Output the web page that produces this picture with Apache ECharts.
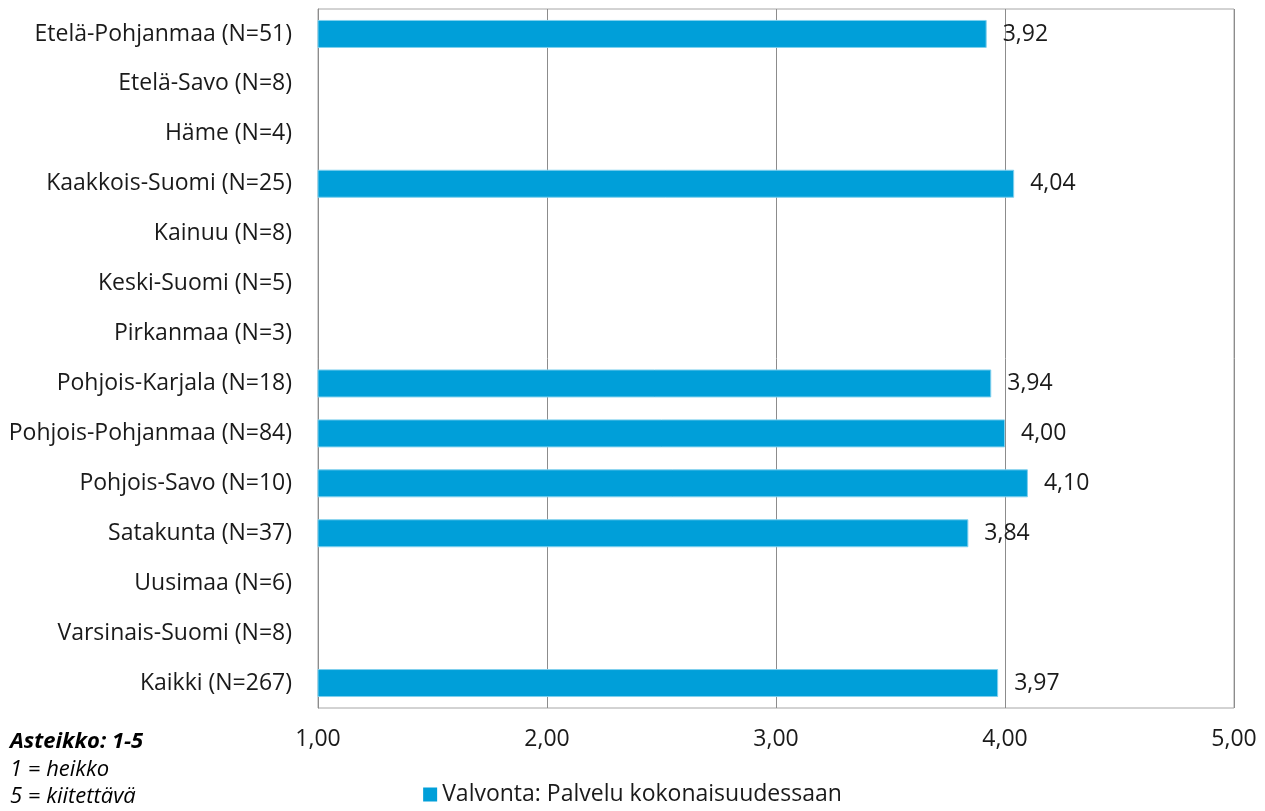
<!DOCTYPE html>
<html><head><meta charset="utf-8">
<script src="https://cdn.jsdelivr.net/npm/echarts@6/dist/echarts.min.js"></script>
<style>html,body{margin:0;padding:0;background:#fff}#c{width:1265px;height:811px}</style>
</head><body><div id="c"></div>
<script>
const categories = ["Etelä-Pohjanmaa (N=51)","Etelä-Savo (N=8)","Häme (N=4)","Kaakkois-Suomi (N=25)","Kainuu (N=8)","Keski-Suomi (N=5)","Pirkanmaa (N=3)","Pohjois-Karjala (N=18)","Pohjois-Pohjanmaa (N=84)","Pohjois-Savo (N=10)","Satakunta (N=37)","Uusimaa (N=6)","Varsinais-Suomi (N=8)","Kaikki (N=267)"];
const values = [3.92, null, null, 4.04, null, null, null, 3.94, 4.00, 4.10, 3.84, null, null, 3.97];
const seriesName = "Valvonta: Palvelu kokonaisuudessaan";
const xTicks = [1, 2, 3, 4, 5];
const noteLines = ["Asteikko: 1-5", "1 = heikko", "5 = kiitettävä"];

const FONT = "'Open Sans', 'Noto Sans', sans-serif";
const chart = echarts.init(document.getElementById('c'));
const fmt = v => v.toFixed(2).replace('.', ',');
chart.setOption({
  animation: false,
  textStyle: { fontFamily: FONT },
  grid: { left: 318, right: 31, top: 9, bottom: 103, show: true, borderColor: '#a6a6a6', borderWidth: 1 },
  xAxis: {
    type: 'value', min: xTicks[0], max: xTicks[xTicks.length - 1], interval: 1,
    axisLine: { show: false }, axisTick: { show: false },
    splitLine: { show: true, lineStyle: { color: '#8c8c8c', width: 1 } },
    axisLabel: { margin: 20, fontSize: 23, color: '#1a1a1a', fontFamily: FONT, formatter: v => fmt(v) }
  },
  yAxis: {
    type: 'category', data: categories, inverse: true,
    axisLine: { show: true, lineStyle: { color: '#8c8c8c', width: 1 } },
    axisTick: { show: false },
    axisLabel: { margin: 26, fontSize: 23, color: '#1a1a1a', fontFamily: FONT }
  },
  legend: {
    bottom: 0, left: 'center', itemWidth: 14, itemHeight: 14, itemGap: 6,
    icon: 'rect',
    itemStyle: { borderWidth: 0 },
    textStyle: { fontSize: 23, color: '#1a1a1a', fontFamily: FONT },
    data: [seriesName]
  },
  series: [{
    name: seriesName, type: 'bar', data: values, barWidth: 28,
    itemStyle: { color: '#009fd9', borderColor: '#7fd0ee', borderWidth: 1 },
    label: { show: true, position: 'right', distance: 16, fontSize: 23, color: '#1a1a1a', fontFamily: FONT,
      formatter: p => p.value == null ? '' : fmt(p.value) }
  }],
  graphic: [
    { type: 'text', left: 10, top: 731, style: { text: noteLines[0], font: "italic bold 22px " + FONT, fill: '#000' } },
    { type: 'text', left: 10, top: 759, style: { text: noteLines[1], font: "italic 22px " + FONT, fill: '#000' } },
    { type: 'text', left: 10, top: 786, style: { text: noteLines[2], font: "italic 22px " + FONT, fill: '#000' } }
  ]
});
</script></body></html>
